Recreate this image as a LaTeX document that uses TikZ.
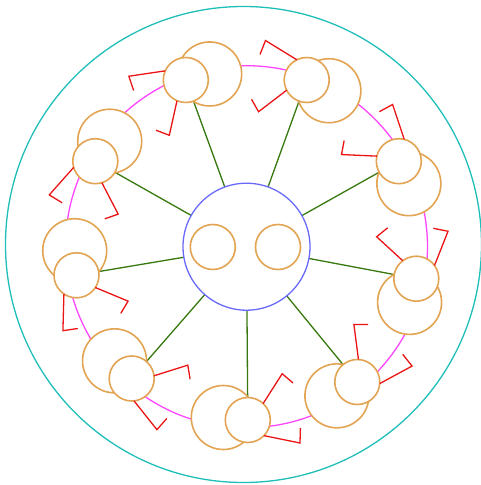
\documentclass[tikz,border=0pt]{standalone}
\usetikzlibrary{backgrounds}
\definecolor{rimc}{RGB}{30,190,185}
\definecolor{ringc}{RGB}{255,70,255}
\definecolor{tblc}{RGB}{105,105,250}
\definecolor{orgc}{RGB}{226,164,82}
\definecolor{grnc}{RGB}{55,120,15}
\definecolor{armc}{RGB}{235,20,20}
\begin{document}
\begin{tikzpicture}[x=1pt,y=1pt,
  seat/.style={circle, draw=orgc, line width=1.6pt, fill=white, inner sep=0pt, outer sep=0pt, minimum size=#1},
  link/.style={grnc, line width=1.3pt},
  armline/.style={armc, line width=1.3pt},
  tablebox/.style={circle, draw=tblc, line width=1.3pt, fill=white, inner sep=0pt, outer sep=0pt, minimum size=127pt}]
\useasboundingbox (-246.5,-238.3) rectangle (234.5,246.7);
\draw[rimc, line width=1.3pt] (-3,2.2) circle (238);
\draw[ringc, line width=1.3pt] (0,0) circle (181);
\node[tablebox] (table) at (0,0) {};
\node[seat=45pt] (p1) at (-33.7,-0.3) {};
\node[seat=45pt] (p2) at (31.5,-0.3) {};
\foreach \k/\px/\py [evaluate=\k as \a using 110-40*(\k-1)] in
  {1/-60.7/166.7, 2/60.2/166.7, 3/152.3/85.5, 4/169.8/-32, 5/110.8/-135.3,
   6/1.3/-173.3, 7/-114.8/-131.8, 8/-170/-28.6, 9/-151.2/85.5} {
  \begin{scope}[shift={(\px,\py)}, rotate=\a]
    \node[seat=64pt] (b\k) at (-2.5,-24.5) {};
    \node[seat=45pt] (h\k) at (0,0) {};
    \draw[armline] (137:22.5) -- (-46.3,34.4) -- (-37,45.2);
    \draw[armline] (46:22.5) -- (23,52.2) -- (8,52.6);
  \end{scope}
}
\begin{scope}[on background layer]
  \foreach \k in {1,...,9} \draw[link] (table) -- (h\k);
\end{scope}
\end{tikzpicture}
\end{document}
